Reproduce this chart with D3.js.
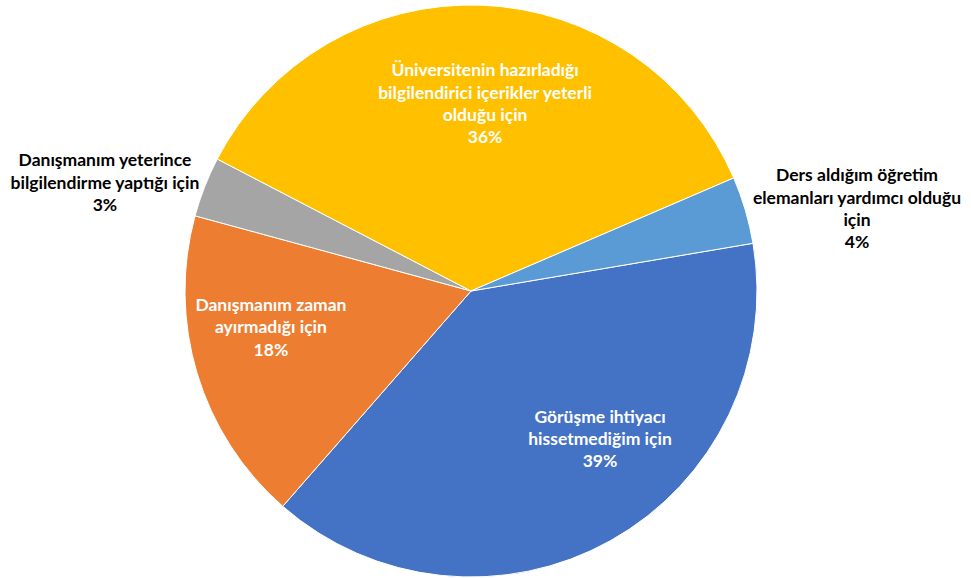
<!DOCTYPE html>
<html><head><meta charset="utf-8">
<script src="https://cdn.jsdelivr.net/npm/d3@7"></script>
<style>body{margin:0;background:#fff}svg{display:block}</style>
</head><body>
<svg id="c" width="971" height="578"></svg>
<script>
const categories = [
  ["Görüşme ihtiyacı", "hissetmediğim için"],
  ["Danışmanım zaman", "ayırmadığı için"],
  ["Danışmanım yeterince", "bilgilendirme yaptığı için"],
  ["Üniversitenin hazırladığı", "bilgilendirici içerikler yeterli", "olduğu için"],
  ["Ders aldığım öğretim", "elemanları yardımcı olduğu", "için"]
];
const values = [39.1, 17.8, 3.4, 35.9, 3.8];
const colors = ["#4472C4", "#ED7D31", "#A5A5A5", "#FFC000", "#5B9BD5"];
const outside = [false, false, true, false, true];
// label layout: radius factor and angle nudge (deg) relative to slice middle
const labelRadius = [0.686, 0.711, 1.335, 0.657, 1.38];
const labelNudge = [-11.9, 6.5, -4.85, 2.2, 4.4];

const svg = d3.select("#c");
const cx = 471, cy = 291, R = 286;
const start = 80.4 * Math.PI / 180;
const total = d3.sum(values);
const pie = d3.pie().sort(null).value(d => d).startAngle(start).endAngle(start + 2 * Math.PI);
const arcs = pie(values);
const arc = d3.arc().innerRadius(0).outerRadius(R);
const g = svg.append("g").attr("transform", `translate(${cx},${cy})`);
g.selectAll("path").data(arcs).join("path")
  .attr("d", arc).attr("fill", (d, i) => colors[i])
  .attr("stroke", "#fff").attr("stroke-width", 1);

const lh = 22.3;
arcs.forEach((a, i) => {
  const ang = (a.startAngle + a.endAngle) / 2 + labelNudge[i] * Math.PI / 180;
  const r = R * labelRadius[i];
  const x = r * Math.sin(ang), y = -r * Math.cos(ang);
  const lines = categories[i].concat([Math.round(values[i] / total * 100) + "%"]);
  const t = g.append("text")
    .attr("text-anchor", "middle")
    .attr("font-family", "Lato, 'Open Sans', sans-serif")
    .attr("font-weight", "bold").attr("font-size", 17.5)
    .attr("fill", outside[i] ? "#000" : "#fff");
  const y0 = y - (lines.length - 1) * lh / 2;
  lines.forEach((l, k) => {
    t.append("tspan").attr("x", x).attr("y", y0 + k * lh).attr("dy", "0.35em").text(l);
  });
});
</script>
</body></html>
